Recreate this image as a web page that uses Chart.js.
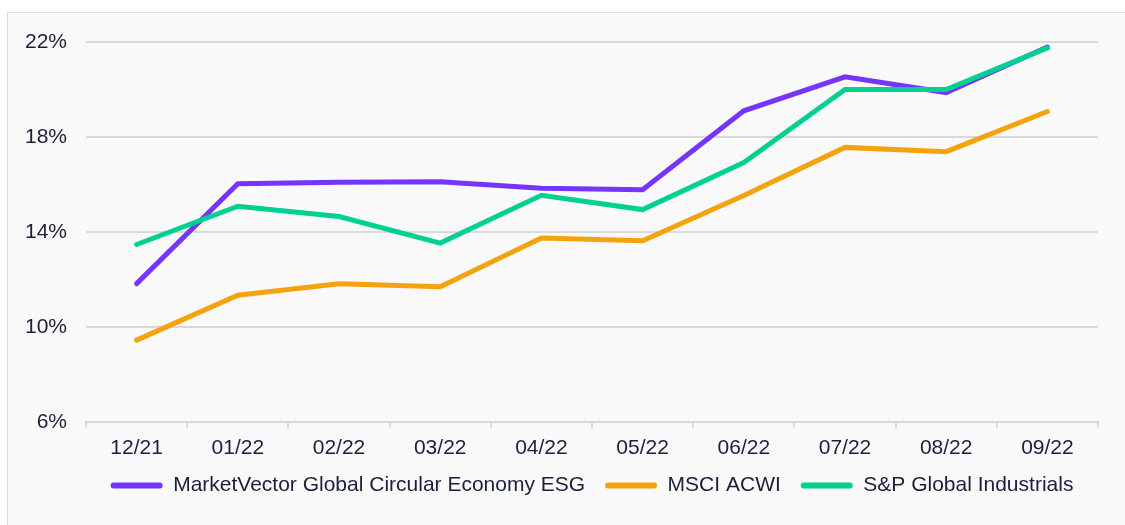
<!DOCTYPE html>
<html>
<head>
<meta charset="utf-8">
<script src="https://cdn.jsdelivr.net/npm/chart.js@4"></script>
<style>
  html, body { margin: 0; padding: 0; background: #fff; overflow: hidden; }
  #wrap { position: relative; width: 1125px; height: 525px; }
  #frame { position: absolute; left: 7px; top: 12px; width: 1140px; height: 540px;
           border-top: 1px solid #d9d9d9; border-left: 1px solid #d9d9d9; background: #f9f9f9; }
  #chart { position: absolute; left: 0; top: 0; }
</style>
</head>
<body>
<div id="wrap">
  <div id="frame"></div>
  <canvas id="chart" width="1125" height="525"></canvas>
</div>
<script>
// --- DATA ---
const months = ['12/21', '01/22', '02/22', '03/22', '04/22', '05/22', '06/22', '07/22', '08/22', '09/22'];
const marketVector = [11.82, 16.03, 16.09, 16.11, 15.84, 15.78, 19.10, 20.53, 19.87, 21.79];
const msciAcwi = [9.44, 11.33, 11.82, 11.69, 13.74, 13.63, 15.53, 17.56, 17.38, 19.07];
const spIndustrials = [13.47, 15.08, 14.65, 13.53, 15.54, 14.94, 16.92, 20.00, 20.00, 21.75];
const yTicks = [6, 10, 14, 18, 22];

const PURPLE = '#7634ff', ORANGE = '#f4a20e', GREEN = '#00d192';
const TEXT = '#1b1f3a', GRID = '#d9d9d9';
const FONT = "'Liberation Sans', Arial, sans-serif";

const mkSet = (label, data, color, order) => ({
    label, data, order,
    borderColor: color, backgroundColor: color,
    borderWidth: 5, tension: 0, pointRadius: 0,
    borderCapStyle: 'round', fill: false
});

new Chart(document.getElementById('chart'), {
    type: 'line',
    data: {
        labels: months,
        datasets: [
            mkSet('MarketVector Global Circular Economy ESG', marketVector, PURPLE, 1),
            mkSet('MSCI ACWI', msciAcwi, ORANGE, 2),
            mkSet('S&P Global Industrials', spIndustrials, GREEN, 0)
        ]
    },
    options: {
        responsive: false,
        animation: false,
        layout: { padding: { top: 42, left: 6, right: 27, bottom: 19 } },
        scales: {
            x: {
                offset: true,
                grid: { display: true, drawOnChartArea: false, drawTicks: true, tickLength: 6,
                        offset: true, color: GRID, lineWidth: 2 },
                border: { display: true, color: GRID, width: 2 },
                ticks: { color: TEXT, padding: 8, font: { family: FONT, size: 21 }, maxRotation: 0 },
                afterFit: (s) => { s.height -= 14; } // pull legend closer to the tick labels
            },
            y: {
                min: 6, max: 22,
                afterBuildTicks: (s) => { s.ticks = yTicks.map(v => ({ value: v })); },
                grid: { color: GRID, lineWidth: 2, drawTicks: false },
                border: { display: false },
                ticks: { color: TEXT, padding: 19, font: { family: FONT, size: 21 },
                         callback: (v) => v + '%' }
            }
        },
        plugins: {
            tooltip: { enabled: false },
            legend: {
                position: 'bottom',
                fullSize: false,
                labels: {
                    color: TEXT,
                    font: { family: FONT, size: 21 },
                    boxWidth: 52, boxHeight: 6,
                    useBorderRadius: true, borderRadius: 3,
                    padding: 20,
                    generateLabels: (chart) => {
                        const items = Chart.defaults.plugins.legend.labels.generateLabels(chart);
                        items.forEach(it => { it.lineWidth = 0; it.fillStyle = it.strokeStyle; });
                        return items.sort((a, b) => a.datasetIndex - b.datasetIndex);
                    }
                }
            }
        }
    }
});
</script>
</body>
</html>
